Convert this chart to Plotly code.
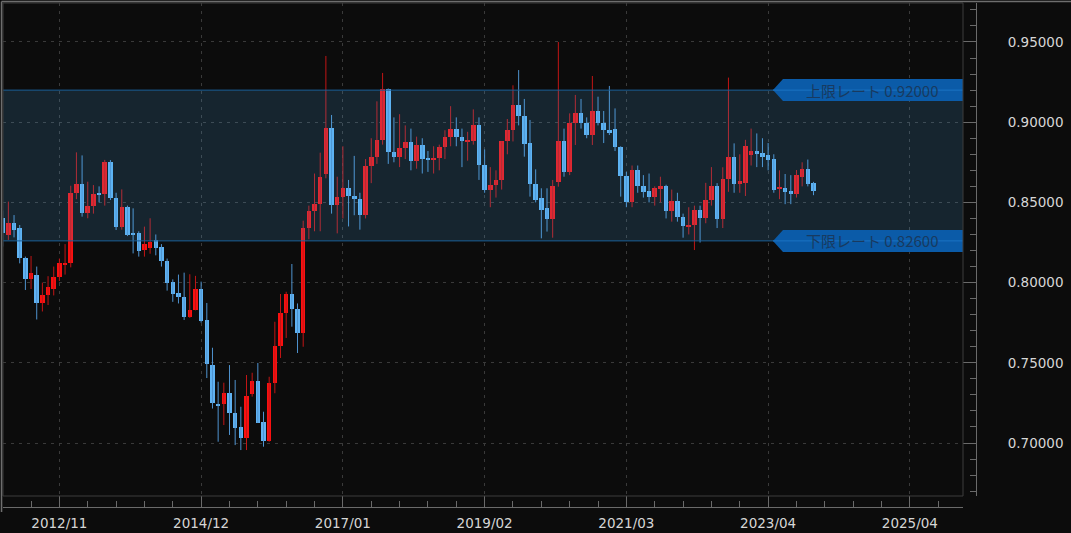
import plotly.graph_objects as go

# ---- data (monthly candles, 2012/01 .. 2023/12) ----
months = [f"{y}/{m:02d}" for y in range(2012, 2024) for m in range(1, 13)]

opens = [0.8400, 0.8297, 0.8374, 0.8342, 0.8155, 0.8020, 0.8045, 0.7870, 0.7920, 0.7960, 0.8033, 0.8110,
         0.8120, 0.8557, 0.8613, 0.8432, 0.8478, 0.8561, 0.8550, 0.8750, 0.8530, 0.8349, 0.8469, 0.8307,
         0.8307, 0.8201, 0.8214, 0.8266, 0.8220, 0.8135, 0.8006, 0.7933, 0.7912, 0.7788, 0.7830, 0.7960,
         0.7767, 0.7486, 0.7245, 0.7241, 0.7314, 0.7185, 0.7100, 0.7030, 0.7305, 0.7389, 0.7133, 0.7013,
         0.7372, 0.7605, 0.7812, 0.7929, 0.7836, 0.7684, 0.8338, 0.8448, 0.8490, 0.8675, 0.8966, 0.8485,
         0.8532, 0.8590, 0.8540, 0.8520, 0.8420, 0.8725, 0.8785, 0.8890, 0.9206, 0.8815, 0.8785, 0.8837,
         0.8877, 0.8760, 0.8855, 0.8772, 0.8765, 0.8775, 0.8845, 0.8905, 0.8955, 0.8905, 0.8880, 0.8885,
         0.8980, 0.8735, 0.8580, 0.8610, 0.8640, 0.8880, 0.8950, 0.9110, 0.9041, 0.8868, 0.8615, 0.8525,
         0.8463, 0.8394, 0.8629, 0.8883, 0.8692, 0.8993, 0.9059, 0.8997, 0.8920, 0.9070, 0.8993, 0.8951,
         0.8955, 0.8847, 0.8667, 0.8505, 0.8702, 0.8602, 0.8571, 0.8536, 0.8588, 0.8600, 0.8447, 0.8510,
         0.8410, 0.8352, 0.8360, 0.8455, 0.8400, 0.8515, 0.8605, 0.8395, 0.8649, 0.8785, 0.8612, 0.8622,
         0.8795, 0.8822, 0.8808, 0.8796, 0.8770, 0.8582, 0.8590, 0.8569, 0.8551, 0.8659, 0.8711, 0.8621]
highs = [0.8450, 0.8505, 0.8421, 0.8359, 0.8162, 0.8166, 0.8100, 0.8000, 0.8040, 0.8100, 0.8150, 0.8240,
         0.8604, 0.8812, 0.8793, 0.8629, 0.8608, 0.8600, 0.8765, 0.8764, 0.8560, 0.8581, 0.8480, 0.8463,
         0.8320, 0.8349, 0.8401, 0.8300, 0.8240, 0.8150, 0.8020, 0.8050, 0.8062, 0.8052, 0.8042, 0.8006,
         0.7873, 0.7594, 0.7382, 0.7376, 0.7486, 0.7393, 0.7226, 0.7424, 0.7438, 0.7499, 0.7195, 0.7413,
         0.7756, 0.7929, 0.7943, 0.8116, 0.7870, 0.8386, 0.8480, 0.8680, 0.8810, 0.9413, 0.9045, 0.8660,
         0.8850, 0.8640, 0.8790, 0.8560, 0.8770, 0.8900, 0.9130, 0.9307, 0.9210, 0.9030, 0.9050, 0.8980,
         0.8960, 0.8910, 0.8900, 0.8820, 0.8850, 0.8860, 0.8950, 0.9100, 0.9030, 0.8960, 0.8940, 0.9080,
         0.9030, 0.8830, 0.8720, 0.8700, 0.8880, 0.9020, 0.9230, 0.9325, 0.9145, 0.9014, 0.8706, 0.8588,
         0.8588, 0.8640, 0.9500, 0.8960, 0.9055, 0.9170, 0.9145, 0.9030, 0.9288, 0.9159, 0.9070, 0.9226,
         0.9086, 0.8850, 0.8690, 0.8730, 0.8730, 0.8670, 0.8680, 0.8600, 0.8660, 0.8610, 0.8580, 0.8560,
         0.8430, 0.8470, 0.8480, 0.8480, 0.8622, 0.8720, 0.8620, 0.8719, 0.9278, 0.8868, 0.8800, 0.8890,
         0.8960, 0.8930, 0.8900, 0.8870, 0.8800, 0.8700, 0.8677, 0.8670, 0.8702, 0.8750, 0.8767, 0.8628]
lows = [0.8225, 0.8266, 0.8282, 0.8120, 0.7954, 0.7960, 0.7770, 0.7820, 0.7860, 0.7920, 0.8010, 0.8050,
        0.8095, 0.8520, 0.8411, 0.8401, 0.8430, 0.8500, 0.8480, 0.8515, 0.8328, 0.8330, 0.8290, 0.8182,
        0.8162, 0.8162, 0.8180, 0.8170, 0.8100, 0.7950, 0.7880, 0.7870, 0.7767, 0.7780, 0.7827, 0.7750,
        0.7405, 0.7215, 0.7008, 0.7112, 0.7050, 0.6987, 0.6956, 0.6956, 0.7289, 0.7125, 0.6977, 0.7008,
        0.7310, 0.7530, 0.7655, 0.7725, 0.7561, 0.7600, 0.8270, 0.8320, 0.8320, 0.8650, 0.8430, 0.8307,
        0.8400, 0.8350, 0.8420, 0.8330, 0.8400, 0.8620, 0.8740, 0.8860, 0.8740, 0.8750, 0.8720, 0.8770,
        0.8700, 0.8710, 0.8680, 0.8690, 0.8680, 0.8700, 0.8770, 0.8850, 0.8850, 0.8720, 0.8760, 0.8860,
        0.8640, 0.8560, 0.8470, 0.8530, 0.8580, 0.8800, 0.8880, 0.8980, 0.8785, 0.8536, 0.8500, 0.8276,
        0.8318, 0.8280, 0.8598, 0.8660, 0.8670, 0.8858, 0.8960, 0.8900, 0.8858, 0.8980, 0.8870, 0.8920,
        0.8820, 0.8536, 0.8470, 0.8470, 0.8560, 0.8530, 0.8500, 0.8480, 0.8500, 0.8400, 0.8380, 0.8380,
        0.8280, 0.8300, 0.8203, 0.8250, 0.8370, 0.8480, 0.8340, 0.8340, 0.8566, 0.8560, 0.8560, 0.8540,
        0.8730, 0.8720, 0.8720, 0.8700, 0.8560, 0.8520, 0.8489, 0.8489, 0.8530, 0.8600, 0.8600, 0.8545]
closes = [0.8307, 0.8374, 0.8328, 0.8151, 0.8020, 0.8062, 0.7870, 0.7920, 0.7975, 0.8037, 0.8120, 0.8125,
          0.8560, 0.8613, 0.8432, 0.8478, 0.8552, 0.8552, 0.8750, 0.8530, 0.8349, 0.8469, 0.8297, 0.8297,
          0.8199, 0.8241, 0.8251, 0.8214, 0.8135, 0.8000, 0.7927, 0.7912, 0.7788, 0.7830, 0.7960, 0.7762,
          0.7493, 0.7250, 0.7235, 0.7314, 0.7185, 0.7093, 0.7030, 0.7295, 0.7389, 0.7127, 0.7013, 0.7372,
          0.7607, 0.7812, 0.7929, 0.7836, 0.7684, 0.8338, 0.8448, 0.8490, 0.8660, 0.8966, 0.8485, 0.8532,
          0.8590, 0.8540, 0.8520, 0.8420, 0.8725, 0.8785, 0.8890, 0.9206, 0.8815, 0.8785, 0.8837, 0.8877,
          0.8760, 0.8855, 0.8772, 0.8765, 0.8775, 0.8845, 0.8905, 0.8955, 0.8905, 0.8880, 0.8885, 0.8980,
          0.8735, 0.8580, 0.8610, 0.8640, 0.8880, 0.8950, 0.9110, 0.9041, 0.8862, 0.8615, 0.8515, 0.8453,
          0.8394, 0.8602, 0.8883, 0.8692, 0.8993, 0.9059, 0.8997, 0.8920, 0.9070, 0.8993, 0.8951, 0.8935,
          0.8847, 0.8667, 0.8505, 0.8702, 0.8602, 0.8567, 0.8536, 0.8588, 0.8600, 0.8447, 0.8510, 0.8410,
          0.8352, 0.8360, 0.8455, 0.8400, 0.8515, 0.8605, 0.8395, 0.8649, 0.8785, 0.8615, 0.8633, 0.8851,
          0.8822, 0.8800, 0.8785, 0.8764, 0.8580, 0.8598, 0.8565, 0.8555, 0.8671, 0.8711, 0.8617, 0.8571]

tick_labels = ["2012/11", "2014/12", "2017/01", "2019/02", "2021/03", "2023/04", "2025/04"]
tick_bars = [10, 35, 60, 85, 110, 135, 160]
upper_rate = 0.92
lower_rate = 0.826
band_labels = ["上限レート 0.92000", "下限レート 0.82600"]

# ---- styling ----
BG = "#0c0c0c"
UP_BODY, UP_WICK = "#fb1010", "#c21515"
DN_BODY, DN_WICK = "#60b3f3", "#4f93cf"

x = list(range(len(opens)))
is_up = [c >= o for o, c in zip(opens, closes)]

fig = go.Figure()

# wicks
for flag, col in ((True, UP_WICK), (False, DN_WICK)):
    wx, wy = [], []
    for i in x:
        if is_up[i] == flag:
            wx += [i, i, None]
            wy += [lows[i], highs[i], None]
    fig.add_trace(go.Scatter(x=wx, y=wy, mode="lines", line=dict(color=col, width=1),
                             hoverinfo="skip", showlegend=False))

# bodies
base = [min(o, c) for o, c in zip(opens, closes)]
height = [max(abs(c - o), 0.0008) for o, c in zip(opens, closes)]
fig.add_trace(go.Bar(x=x, y=height, base=base, width=0.8,
                     marker=dict(color=[UP_BODY if u else DN_BODY for u in is_up], line=dict(width=0)),
                     hoverinfo="skip", showlegend=False))

shapes = []
# band (semi-transparent overlay)
shapes.append(dict(type="rect", xref="x domain", yref="y", x0=0, x1=1, y0=lower_rate, y1=upper_rate,
                   fillcolor="rgba(79,179,245,0.15)", line=dict(width=0), layer="above"))
half = 11 / 1604.0
for lvl in (upper_rate, lower_rate):
    shapes.append(dict(type="line", xref="x domain", yref="y", x0=0, x1=1, y0=lvl, y1=lvl,
                       line=dict(color="#1a5d96", width=1), layer="above"))
    path = (f"M 0.8021,{lvl} L 0.8125,{lvl + half} L 1,{lvl + half} "
            f"L 1,{lvl - half} L 0.8125,{lvl - half} Z")
    shapes.append(dict(type="path", xref="x domain", yref="y", path=path,
                       fillcolor="#0b5ba8", line=dict(width=0), layer="above"))
    shapes.append(dict(type="line", xref="x domain", yref="y", x0=0.8021, x1=1, y0=lvl, y1=lvl,
                       line=dict(color="#1b74c4", width=1), layer="above"))

# frames
shapes.append(dict(type="rect", xref="x domain", yref="y domain", x0=0, x1=1, y0=0, y1=1,
                   line=dict(color="#3c3c3c", width=1), layer="above"))
shapes.append(dict(type="line", xref="paper", yref="paper", x0=-0.0015, x1=1.2, y0=1.003, y1=1.003,
                   line=dict(color="#6e6e6e", width=1.5)))
shapes.append(dict(type="line", xref="paper", yref="paper", x0=-0.0015, x1=-0.0015, y0=-0.01, y1=1.003,
                   line=dict(color="#6e6e6e", width=1.5)))

annotations = []
for lvl, txt in zip((upper_rate, lower_rate), band_labels):
    annotations.append(dict(xref="x domain", yref="y", x=0.905, y=lvl, text=txt, showarrow=False,
                            xanchor="center", yanchor="middle",
                            font=dict(family="Noto Sans CJK JP", size=15, color="#183a60")))

fig.update_layout(
    width=1071, height=533,
    margin=dict(l=3, r=95, t=3, b=26, pad=0),
    paper_bgcolor=BG, plot_bgcolor=BG,
    showlegend=False, hovermode=False, bargap=0, barmode="overlay",
    shapes=shapes, annotations=annotations,
    font=dict(family="DejaVu Sans", size=13.5, color="#d6d6d6"),
    xaxis=dict(domain=[0, 960 / 973], anchor="free", position=0,
               range=[0.053, 169.37], tickmode="array", tickvals=tick_bars, ticktext=tick_labels,
               ticks="inside", ticklen=11, tickcolor="#6a6a6a", tickwidth=1,
               showline=True, linecolor="#6a6a6a", linewidth=1,
               showgrid=True, gridcolor="#3a3a3a", griddash="3px,5px", gridwidth=1,
               zeroline=False, ticklabelstandoff=4,
               minor=dict(tickmode="linear", tick0=0, dtick=5, ticks="inside", ticklen=6,
                          tickcolor="#6a6a6a", showgrid=False),
               tickfont=dict(family="DejaVu Sans", size=13.5, color="#d6d6d6")),
    yaxis=dict(domain=[11 / 504, 1], anchor="free", position=1, side="right",
               range=[0.66696, 0.97431], tickmode="linear", tick0=0.70, dtick=0.05,
               tickformat=".5f", ticks="inside", ticklen=13, tickcolor="#6a6a6a",
               showline=True, linecolor="#6a6a6a", linewidth=1,
               showgrid=True, gridcolor="#3a3a3a", griddash="3px,5px", gridwidth=1,
               zeroline=False, ticklabelstandoff=28,
               minor=dict(tickmode="linear", tick0=0.70, dtick=0.01, ticks="inside", ticklen=6,
                          tickcolor="#6a6a6a", showgrid=False),
               tickfont=dict(family="DejaVu Sans", size=13.5, color="#d6d6d6")),
)

fig.write_html("out.html", config={"displayModeBar": False},
               post_script="document.body.style.margin='0';document.body.style.background='#0c0c0c';")
